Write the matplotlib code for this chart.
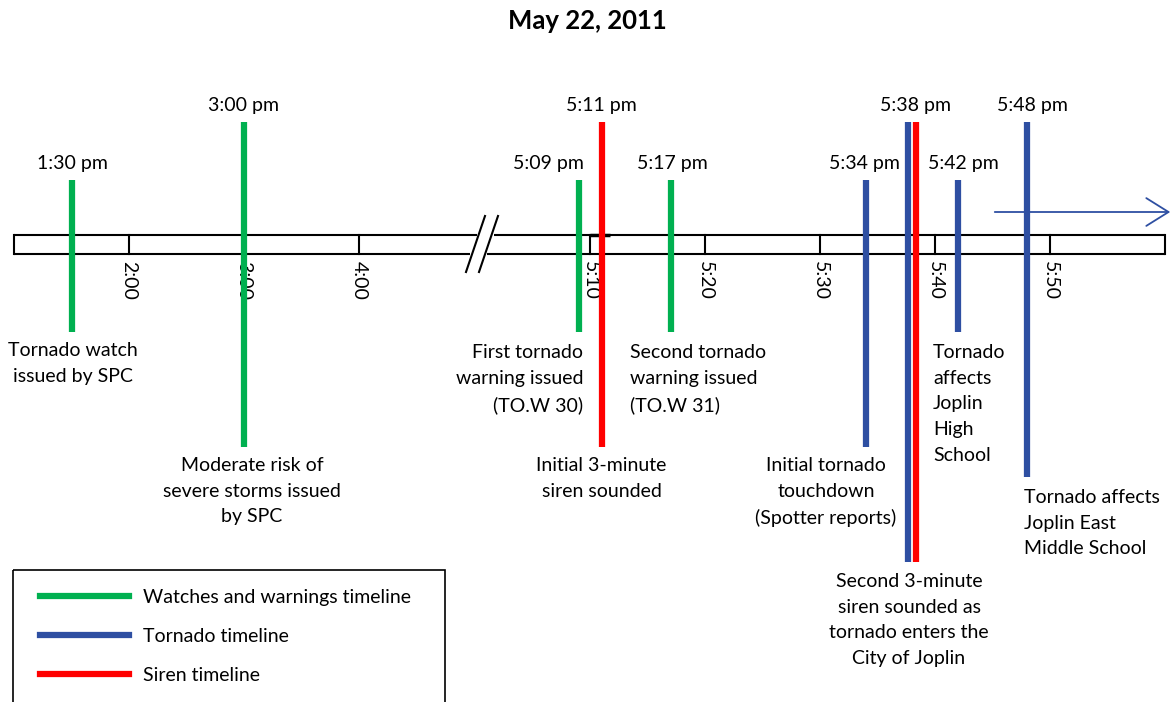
import matplotlib
matplotlib.use("Agg")
import matplotlib.pyplot as plt
from matplotlib.lines import Line2D
from matplotlib.patches import Rectangle, FancyArrowPatch

plt.rcParams['font.family'] = ['Lato', 'DejaVu Sans']

# ---------------- data ----------------
title = "May 22, 2011"
event_labels = ['1:30 pm', '3:00 pm', '5:09 pm', '5:11 pm', '5:17 pm',
                '5:34 pm', '5:38 pm', '5:38 pm', '5:42 pm', '5:48 pm']
event_minutes = [90, 180, 309, 311, 317, 334, 338, 338, 342, 348]   # minutes after noon
event_kind = ['watch', 'watch', 'watch', 'siren', 'watch',
              'tornado', 'tornado', 'siren', 'tornado', 'tornado']
event_desc = ['Tornado watch\nissued by SPC',
              'Moderate risk of\nsevere storms issued\nby SPC',
              'First tornado\nwarning issued\n(TO.W 30)',
              'Initial 3-minute\nsiren sounded',
              'Second tornado\nwarning issued\n(TO.W 31)',
              'Initial tornado\ntouchdown\n(Spotter reports)',
              None,
              'Second 3-minute\nsiren sounded as\ntornado enters the\nCity of Joplin',
              'Tornado\naffects\nJoplin\nHigh\nSchool',
              'Tornado affects\nJoplin East\nMiddle School']
tick_minutes = [120, 180, 240, 310, 320, 330, 340, 350]
tick_labels = ['2:00', '3:00', '4:00', '5:10', '5:20', '5:30', '5:40', '5:50']
kind_names = {'watch': 'Watches and warnings timeline',
              'tornado': 'Tornado timeline',
              'siren': 'Siren timeline'}
kind_order = ['watch', 'tornado', 'siren']

# ---------------- style / layout ----------------
colors = {'watch': '#00B050', 'tornado': '#2E4FA2', 'siren': '#FF0000'}
FS = 14

# broken time scale (pixel layout of the canvas)
def to_x(m):
    if m < 300:
        return 129 + (m - 120) * 115 / 60.0
    return 590 + (m - 310) * 11.5

line_top = [180, 122, 180, 122, 180, 180, 122, 122, 180, 122]
line_bot = [332, 447, 332, 447, 332, 447, 562, 562, 332, 477]
x_shift = [0, 0, 0, 0, 0, 0, -4, 4, 0, 0]
lab_y = [164, 105, 164, 105, 164, 164, 105, None, 164, 105]
lab_dx = [1, 0, -30, 0, 2, -2, 3, 0, 5, 5]
desc_pos = [  # dx, y, ha
    (1, 342, 'center'), (8, 457, 'center'), (5, 344, 'right'),
    (0, 457, 'center'), (-41, 344, 'left'), (-40, 457, 'center'),
    None, (-3, 573, 'center'), (-25, 344, 'left'), (-3, 489, 'left')]

fig = plt.figure(figsize=(11.74, 7.02), dpi=100)
ax = fig.add_axes([0, 0, 1, 1])
ax.set_xlim(0, 1174)
ax.set_ylim(702, 0)
ax.axis('off')

fig.text(0.5, 1 - 21 / 702, title, ha='center', va='center',
         fontsize=18.5, fontweight='bold')

# timeline bar
bar_top, bar_bot = 235, 254
x0, x1 = to_x(60), to_x(360)
lw_bar = 1.5
ax.plot([x0, 477], [bar_top, bar_top], color='black', lw=lw_bar, solid_capstyle='butt')
ax.plot([494, x1], [bar_top, bar_top], color='black', lw=lw_bar, solid_capstyle='butt')
ax.plot([x0, 470], [bar_bot, bar_bot], color='black', lw=lw_bar, solid_capstyle='butt')
ax.plot([487, x1], [bar_bot, bar_bot], color='black', lw=lw_bar, solid_capstyle='butt')
ax.plot([x0, x0], [bar_top, bar_bot], color='black', lw=lw_bar)
ax.plot([x1, x1], [bar_top, bar_bot], color='black', lw=lw_bar)
# break marks
ax.plot([466, 485], [272, 216], color='black', lw=lw_bar)
ax.plot([479, 498], [272, 216], color='black', lw=lw_bar)

for m, lab in zip(tick_minutes, tick_labels):
    x = to_x(m)
    ax.plot([x, x], [bar_top, bar_bot], color='black', lw=lw_bar)
    ax.text(x, 261, lab, rotation=270, ha='center', va='top', fontsize=FS)
# small artefact near 5:10
ax.plot([to_x(310), to_x(311.7)], [bar_top, bar_top], color='black', lw=2.5,
        solid_capstyle='butt')

# arrow
ax.add_patch(FancyArrowPatch((992, 212), (1173, 212),
                             arrowstyle='->,head_length=16,head_width=10',
                             color=colors['tornado'], lw=1.3, mutation_scale=1))

# events
for i, m in enumerate(event_minutes):
    x = to_x(m) + x_shift[i]
    ax.plot([x, x], [line_top[i], line_bot[i]], color=colors[event_kind[i]],
            lw=4.5, solid_capstyle='butt', zorder=3)
    if lab_y[i] is not None:
        ax.text(to_x(m) + lab_dx[i], lab_y[i], event_labels[i], ha='center',
                va='center', fontsize=FS)
    if event_desc[i] is not None:
        dx, y, ha = desc_pos[i]
        ax.text(to_x(m) + dx, y, event_desc[i], ha=ha, va='top', fontsize=FS,
                linespacing=1.62, multialignment=ha)

# legend
ax.add_patch(Rectangle((13, 570), 432, 200, fill=False, edgecolor='black', lw=1.2))
handles = [Line2D([], [], color=colors[k], lw=4.5) for k in kind_order]
leg = ax.legend(handles, [kind_names[k] for k in kind_order], loc='upper left',
                bbox_to_anchor=(40 / 1174, 1 - 589 / 702), bbox_transform=fig.transFigure,
                frameon=False, fontsize=FS, handlelength=4.6, handletextpad=0.7,
                labelspacing=1.12, borderpad=0, borderaxespad=0)

fig.savefig('out.png', dpi=100)
